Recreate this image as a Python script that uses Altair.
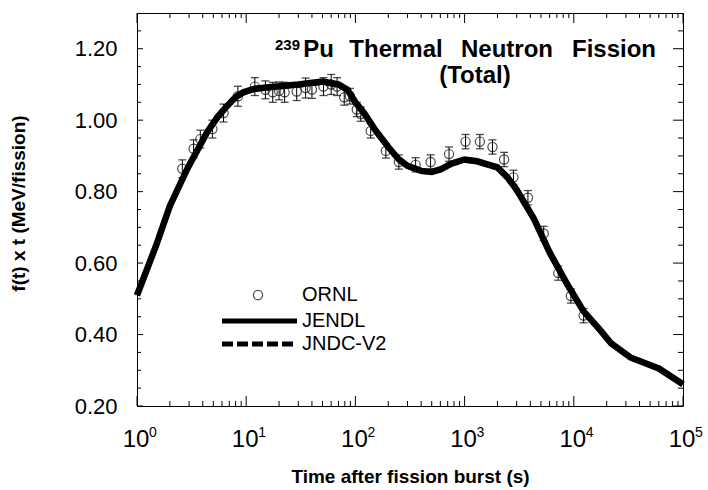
import altair as alt
import pandas as pd

# ---------------- data ----------------
line_t = [1, 1.5, 2, 2.9, 4.4, 5.5, 6.7, 8, 9.4, 12, 20, 30, 50, 70, 85, 100, 120, 150,
          200, 250, 300, 400, 500, 600, 750, 1000, 1300, 2000, 2470, 3000, 4300, 6000,
          8740, 12300, 17700, 22000, 33000, 60000, 100000]
jendl = [0.51, 0.65, 0.76, 0.865, 0.967, 1.01, 1.04, 1.065, 1.078, 1.088, 1.095, 1.10,
         1.108, 1.10, 1.085, 1.05, 1.02, 0.975, 0.925, 0.89, 0.872, 0.858, 0.855, 0.862,
         0.878, 0.89, 0.885, 0.868, 0.84, 0.805, 0.725, 0.63, 0.54, 0.465, 0.41, 0.375,
         0.336, 0.305, 0.261]
jndc = [0.51, 0.652, 0.762, 0.866, 0.965, 1.008, 1.038, 1.063, 1.076, 1.087, 1.094, 1.098,
        1.106, 1.098, 1.083, 1.048, 1.018, 0.973, 0.923, 0.889, 0.871, 0.857, 0.854, 0.861,
        0.876, 0.888, 0.884, 0.866, 0.838, 0.803, 0.723, 0.629, 0.539, 0.464, 0.409,
        0.374, 0.335, 0.304, 0.26]

ornl_t = [2.6, 3.3, 3.8, 4.9, 6.2, 8.4, 12, 15, 17.5, 20, 22.5, 29, 35, 40, 51, 60, 68,
          79, 89, 103, 112, 138, 190, 250, 356, 488, 720, 1020, 1380, 1800, 2300, 2800,
          3800, 5300, 7200, 9400, 12300]
ornl_v = [0.864, 0.92, 0.947, 0.975, 1.02, 1.067, 1.094, 1.085, 1.078, 1.082, 1.078, 1.08,
          1.09, 1.086, 1.094, 1.10, 1.094, 1.064, 1.067, 1.03, 1.017, 0.97, 0.914, 0.883,
          0.875, 0.883, 0.905, 0.94, 0.94, 0.925, 0.89, 0.84, 0.783, 0.683, 0.572,
          0.508, 0.453]
ornl_err = [0.025, 0.025, 0.025, 0.025, 0.025, 0.028, 0.025, 0.025, 0.028, 0.025, 0.028,
            0.025, 0.028, 0.025, 0.025, 0.028, 0.025, 0.022, 0.022, 0.02, 0.02, 0.02,
            0.02, 0.02, 0.02, 0.02, 0.02, 0.02, 0.02, 0.02, 0.02, 0.02, 0.02, 0.02,
            0.02, 0.02, 0.02]

x_decades = [1, 10, 100, 1000, 10000, 100000]
x_exponents = ["0", "1", "2", "3", "4", "5"]
x_minor = [k * d for d in [1, 10, 100, 1000, 10000] for k in range(2, 10)]
y_major = [0.2, 0.4, 0.6, 0.8, 1.0, 1.2]
y_minor = [0.25, 0.3, 0.35, 0.45, 0.5, 0.55, 0.65, 0.7, 0.75, 0.85, 0.9, 0.95,
           1.05, 1.1, 1.15, 1.25]

W, H = 546, 393
FONT = "Liberation Sans"

# ---------------- tables ----------------
lines_df = pd.DataFrame({"t": line_t, "v": jendl, "v2": jndc})
ornl_df = pd.DataFrame({"t": ornl_t, "v": ornl_v, "e": ornl_err})
ornl_df["lo"] = ornl_df["v"] - ornl_df["e"]
ornl_df["hi"] = ornl_df["v"] + ornl_df["e"]
caps_df = pd.concat([
    pd.DataFrame({"t": ornl_df["t"], "v": ornl_df["lo"]}),
    pd.DataFrame({"t": ornl_df["t"], "v": ornl_df["hi"]}),
])
dec_df = pd.DataFrame({"t": x_decades, "ex": x_exponents})
xmaj_df = pd.DataFrame({"t": x_decades})
xmin_df = pd.DataFrame({"t": x_minor})
ymaj_df = pd.DataFrame({"v": y_major})
ymin_df = pd.DataFrame({"v": y_minor})
one = pd.DataFrame({"a": [0]})

xscale = alt.Scale(type="log", domain=[1, 100000], nice=False)
yscale = alt.Scale(domain=[0.2, 1.3], nice=False, zero=False)
xaxis = alt.Axis(labels=False, ticks=False, domain=False, grid=False,
                 title="Time after fission burst (s)", titleFont=FONT,
                 titleFontSize=19, titleFontWeight="bold", titleColor="black",
                 titleY=76, titleBaseline="alphabetic")
yaxis = alt.Axis(values=y_major, format=".2f", ticks=False, domain=False, grid=False,
                 labelFont=FONT, labelFontSize=22, labelColor="black", labelPadding=20,
                 title="f(t) x t (MeV/fission)", titleFont=FONT, titleFontSize=19,
                 titleFontWeight="bold", titleColor="black", titleX=-119, titleY=190,
                 titleBaseline="middle")

X = lambda: alt.X("t:Q", scale=xscale, axis=xaxis)
Y = lambda f="v": alt.Y(f"{f}:Q", scale=yscale, axis=yaxis)

jndc_line = alt.Chart(lines_df).mark_line(color="black", strokeWidth=5,
                                          strokeDash=[10, 5]).encode(x=X(), y=Y("v2"))
jendl_line = alt.Chart(lines_df).mark_line(color="black", strokeWidth=6.5).encode(x=X(), y=Y())

err = alt.Chart(ornl_df).mark_rule(color="black", strokeWidth=1).encode(
    x=X(), y=Y("lo"), y2="hi:Q")
caps = alt.Chart(caps_df).mark_tick(color="black", orient="horizontal", size=8,
                                    thickness=1.3).encode(x=X(), y=Y())
pts = alt.Chart(ornl_df).mark_point(shape="circle", filled=False, color="black",
                                    size=85, strokeWidth=1.2).encode(x=X(), y=Y())

# inward ticks
def xt(df, y0, y1):
    return alt.Chart(df).mark_rule(color="black", strokeWidth=1).encode(
        x=X(), y=alt.value(y0), y2=alt.value(y1))

def yt(df, x0, x1):
    return alt.Chart(df).mark_rule(color="black", strokeWidth=1).encode(
        y=Y(), x=alt.value(x0), x2=alt.value(x1))

ticks = [xt(xmaj_df, H, H - 10), xt(xmin_df, H, H - 5),
         xt(xmaj_df, 0, 10), xt(xmin_df, 0, 5),
         yt(ymaj_df, 0, 6), yt(ymin_df, 0, 4),
         yt(ymaj_df, W, W - 10), yt(ymin_df, W, W - 5)]

# x tick labels 10^n
base_lbl = alt.Chart(dec_df).mark_text(font=FONT, fontSize=24, color="black",
                                       align="center", baseline="alphabetic", dx=-1).encode(
    x=X(), y=alt.value(H + 41), text=alt.value("10"))
exp_lbl = alt.Chart(dec_df).mark_text(font=FONT, fontSize=14, color="black",
                                      align="left", baseline="alphabetic", dx=12).encode(
    x=X(), y=alt.value(H + 31), text="ex:N")

# title
def txt(s, x, y, size, weight="bold", align="center"):
    return alt.Chart(one).mark_text(font=FONT, fontSize=size, fontWeight=weight,
                                    color="black", align=align,
                                    baseline="alphabetic").encode(
        x=alt.value(x), y=alt.value(y), text=alt.value(s))

title = [txt("239", 138, 37, 15, align="left"),
         txt("Pu", 181.5, 44, 24), txt("Thermal", 259, 44, 24),
         txt("Neutron", 370, 44, 24), txt("Fission", 477, 44, 24),
         txt("(Total)", 338, 70, 24)]

# legend
leg_pt = alt.Chart(one).mark_point(shape="circle", filled=False, color="black",
                                   size=85, strokeWidth=1.2).encode(
    x=alt.value(121), y=alt.value(282))
leg_solid = alt.Chart(one).mark_rule(color="black", strokeWidth=5).encode(
    x=alt.value(85), x2=alt.value(160), y=alt.value(308))
leg_dash = alt.Chart(one).mark_rule(color="black", strokeWidth=5,
                                    strokeDash=[11, 4]).encode(
    x=alt.value(85), x2=alt.value(160), y=alt.value(331))

def ltxt(s, y):
    return alt.Chart(one).mark_text(font=FONT, fontSize=20, color="black",
                                    align="left", baseline="middle").encode(
        x=alt.value(165), y=alt.value(y), text=alt.value(s))

legend = [leg_pt, leg_solid, leg_dash, ltxt("ORNL", 282), ltxt("JENDL", 308),
          ltxt("JNDC-V2", 331)]

chart = alt.layer(
    err, caps, pts, jndc_line, jendl_line, *ticks, base_lbl, exp_lbl, *title, *legend
).properties(
    width=W, height=H,
    padding={"left": 137, "top": 13, "right": 25, "bottom": 84},
    autosize=alt.AutoSizeParams(type="none"),
    background="white",
).configure_view(stroke="black", strokeWidth=1)

chart.save("out.html", embed_options={"renderer": "svg", "actions": False})
